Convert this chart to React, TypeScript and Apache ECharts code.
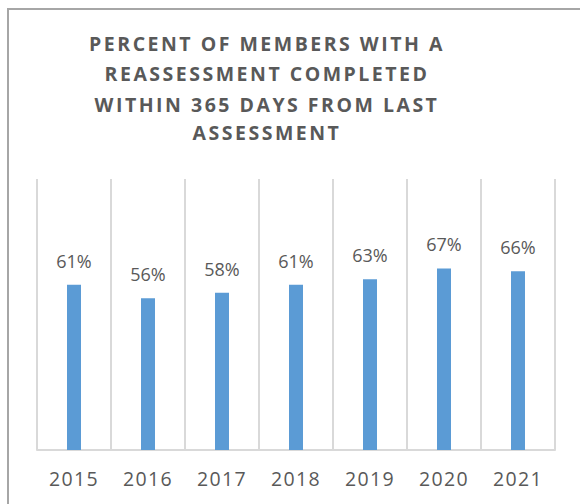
import React, { useEffect, useRef } from "react";
import * as echarts from "echarts";

const titleLines = [
  "PERCENT OF MEMBERS WITH A",
  "REASSESSMENT COMPLETED",
  "WITHIN 365 DAYS FROM LAST",
  "ASSESSMENT",
];
const years = ["2015", "2016", "2017", "2018", "2019", "2020", "2021"];
const percentValues = [61, 56, 58, 61, 63, 67, 66];

export default function App() {
  const ref = useRef<HTMLDivElement>(null);
  useEffect(() => {
    if (!ref.current) return;
    const chart = echarts.init(ref.current, null, { renderer: "svg" });
    const titleY = [43.5, 73, 104, 132];
    chart.setOption({
      animation: false,
      backgroundColor: "#ffffff",
      grid: { left: 37, right: 25, top: 179, bottom: 54, containLabel: false },
      xAxis: {
        type: "category",
        data: years,
        axisLine: { show: true, lineStyle: { color: "#d9d9d9", width: 2 } },
        axisTick: { show: false },
        splitLine: { show: true, lineStyle: { color: "#d9d9d9", width: 2 } },
        axisLabel: {
          color: "#595959",
          fontFamily: "Open Sans",
          fontSize: 19.5,
          margin: 18,
        },
      },
      yAxis: {
        type: "value",
        min: 0,
        max: 100,
        show: false,
        splitLine: { show: false },
      },
      series: [
        {
          type: "bar",
          data: percentValues,
          barWidth: 14,
          itemStyle: { color: "#5b9bd5" },
          label: {
            show: true,
            position: "top",
            distance: 15,
            formatter: "{c}%",
            color: "#595959",
            fontFamily: "Open Sans",
            fontSize: 18,
          },
        },
      ],
      graphic: [
        {
          type: "line",
          shape: { x1: 8, y1: 9, x2: 580, y2: 9 },
          style: { stroke: "#a6a6a6", lineWidth: 2 },
          silent: true,
        },
        {
          type: "line",
          shape: { x1: 8, y1: 8, x2: 8, y2: 504 },
          style: { stroke: "#a6a6a6", lineWidth: 2 },
          silent: true,
        },
        ...titleLines.map((t, i) => ({
          type: "text",
          x: 267,
          y: titleY[i],
          style: {
            text: t,
            align: "center",
            verticalAlign: "middle",
            fill: "#595959",
            font: "bold 19.5px 'Open Sans'",
          },
          silent: true,
        })),
      ],
    });
    // wide letter spacing as in the reference (title and year labels)
    const texts = ref.current.querySelectorAll("text");
    texts.forEach((el) => {
      const s = (el.textContent || "").trim();
      if (titleLines.includes(s)) {
        el.setAttribute("letter-spacing", "2.5");
      } else if (years.includes(s)) {
        el.setAttribute("letter-spacing", "1.3");
      }
    });
    return () => chart.dispose();
  }, []);
  return (
    <div
      ref={ref}
      style={{ position: "absolute", left: 0, top: 0, width: 580, height: 504 }}
    />
  );
}
